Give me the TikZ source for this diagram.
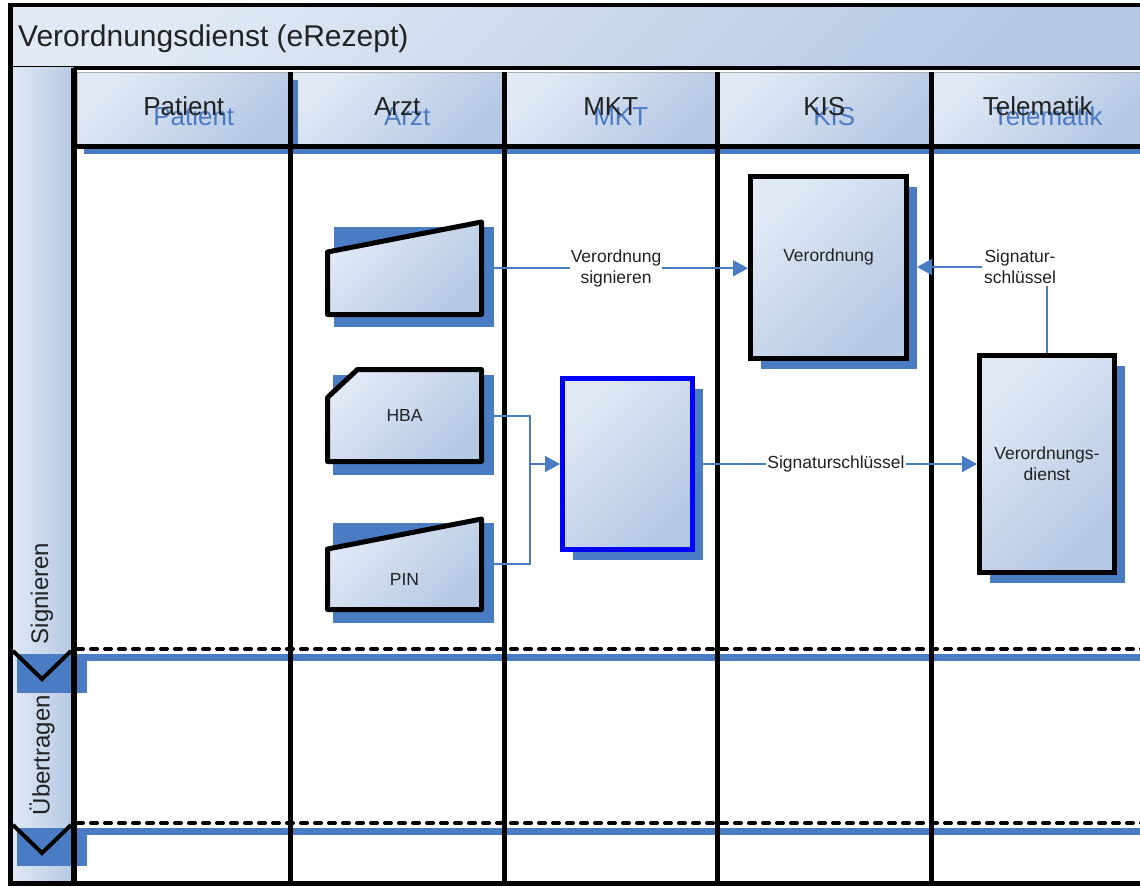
\documentclass[tikz,border=0pt]{standalone}
\usepackage{fontspec}
\setmainfont{Liberation Sans}
\usetikzlibrary{shapes,arrows.meta,positioning,calc,shadows}
\usepackage{xcolor}

\definecolor{shadeblue}{RGB}{74,124,196}
\definecolor{mktblue}{RGB}{0,0,255}
\definecolor{fillhi}{RGB}{225,233,245}
\definecolor{filllo}{RGB}{181,200,228}
\definecolor{inkgray}{RGB}{34,34,34}

\begin{document}
\begin{tikzpicture}[x=1pt, y=-1pt, font=\fontsize{17.5}{21}\selectfont]
    \tikzstyle{bluefill} = [left color=fillhi, right color=filllo, shading angle=45]
    \tikzstyle{bluedrop} = [drop shadow={fill=shadeblue, opacity=1, shadow xshift=10pt, shadow yshift=-10pt}]
    \tikzstyle{lanehead} = [rectangle, draw=gray!60, line width=0.6pt, bluefill, drop shadow={fill=shadeblue, opacity=1, shadow xshift=7pt, shadow yshift=-8pt}, minimum width=213.5pt, minimum height=74pt, inner sep=0pt, outer sep=0pt]
    \tikzstyle{headtext} = [anchor=base, inner sep=0pt, font=\fontsize{26}{30}\selectfont, text=inkgray]
    \tikzstyle{procbox} = [rectangle, draw=black, line width=5pt, bluefill, bluedrop, inner sep=0pt, align=center, text=inkgray]
    \tikzstyle{cardbox} = [rectangle, inner sep=0pt, outer sep=0pt]
    \tikzstyle{cardline} = [draw=black, line width=5pt, line join=round, bluefill]
    \tikzstyle{boxtext} = [align=center, text=inkgray]
    \tikzstyle{flow} = [draw=shadeblue, line width=2pt, -{Triangle[length=15pt, width=16pt]}]
    \tikzstyle{link} = [draw=shadeblue, line width=2pt]
    \tikzstyle{flowlabel} = [fill=white, inner sep=1pt, align=center, text=inkgray]
    \tikzstyle{thickline} = [draw=black, line width=5pt]
    \tikzstyle{phasesep} = [draw=black, line width=4pt, line cap=round, dash pattern=on 6pt off 8pt]
    \tikzstyle{phaselabel} = [rotate=90, font=\fontsize{24}{28}\selectfont, text=inkgray]

    \clip (0,0) rectangle (1140,886);
    \coordinate (poolbottom) at (0,883.5);

    % Titelleiste
    \node[rectangle, draw=black, line width=4pt, bluefill, minimum width=1160pt, minimum height=62.5pt, anchor=north west, outer sep=0pt] (title) at (10,5) {};
    \node[anchor=base west, inner sep=0pt, font=\fontsize{30}{36}\selectfont, text=inkgray] (titletext) at (18,46.5) {Verordnungsdienst (eRezept)};

    % Phasenspalte
    \node[rectangle, left color=fillhi, right color=filllo, anchor=north west, minimum width=62.5pt, minimum height=816pt, inner sep=0pt, outer sep=0pt] (phasecol) at (11,67.5) {};

    % Bahnenkoepfe
    \node[lanehead, anchor=north west] (harzt) at (290.5,72) {};
    \node[lanehead, right=0pt of harzt] (hmkt) {};
    \node[lanehead, right=0pt of hmkt] (hkis) {};
    \node[lanehead, right=0pt of hkis] (htelematik) {};
    \node[lanehead, anchor=north west] (hpatient) at (77,72) {};

    \foreach \h/\t in {hpatient/Patient, harzt/Arzt, hmkt/MKT, hkis/KIS, htelematik/Telematik} {
        \node[headtext, text=shadeblue] (\h-sh) at ([shift={(10,16)}]\h.center) {\t};
        \node[headtext] (\h-txt) at ([shift={(0,6)}]\h.center) {\t};
    }

    % Schatten der Phasentrenner
    \fill[shadeblue] (17,654) rectangle (87,693);
    \fill[shadeblue] (87,654) rectangle (1145,661);
    \fill[shadeblue] (17,828) rectangle (87,866);
    \fill[shadeblue] (87,828) rectangle (1145,835);

    % Rahmen und Bahnen
    \draw[line width=6pt] (phasecol.north east) -- (phasecol.south east);
    \draw[thickline] (phasecol.east |- hpatient.south) -- ++(1100,0);
    \foreach \h in {harzt,hmkt,hkis,htelematik}
        \draw[thickline] (\h.north west) -- (\h.north west |- poolbottom);
    \draw[thickline] (title.north west) -- (title.north west |- poolbottom) -- ++(1200,0);

    % Phasentrenner
    \draw[phasesep] (77,649) -- (1145,649);
    \draw[phasesep] (77,823) -- (1145,823);
    \draw[line width=4pt] (13,651) -- (42,679) -- (71,651);
    \draw[line width=4pt] (13,825) -- (42,853) -- (71,825);

    \node[phaselabel] (psignieren) at (42,593.5) {Signieren};
    \node[phaselabel] (puebertragen) at (42,755) {Übertragen};

    % Arzt
    \node[cardbox, minimum width=154pt, minimum height=92.5pt] (rezept) at (404.5,268.25) {};
    \fill[shadeblue] ([shift={(6,5)}]rezept.north west) rectangle ([shift={(12.5,12.5)}]rezept.south east);
    \draw[cardline] (rezept.south west) -- (rezept.south east) -- (rezept.north east) -- ([shift={(0,30)}]rezept.north west) -- cycle;

    \node[cardbox, minimum width=154pt, minimum height=92pt] (hba) at (404.5,415.5) {};
    \fill[shadeblue] ([shift={(5.5,5.5)}]hba.north west) rectangle ([shift={(12.5,13.5)}]hba.south east);
    \draw[cardline] (hba.south west) -- (hba.south east) -- (hba.north east) -- ([shift={(30,0)}]hba.north west) -- ([shift={(0,28)}]hba.north west) -- cycle;
    \node[boxtext] (hba-txt) at (hba) {HBA};

    \node[cardbox, minimum width=154pt, minimum height=90.5pt] (pin) at (404.5,564.25) {};
    \fill[shadeblue] ([shift={(5.5,4)}]pin.north west) rectangle ([shift={(12.5,13.5)}]pin.south east);
    \draw[cardline] (pin.south west) -- (pin.south east) -- (pin.north east) -- ([shift={(0,30)}]pin.north west) -- cycle;
    \node[boxtext] (pin-txt) at ([shift={(0,15)}]pin.center) {PIN};

    % MKT, KIS, Telematik
    \node[procbox, draw=mktblue, minimum width=130pt, minimum height=171pt] (mkt) at (627.5,464) {};
    \node[procbox, minimum width=156pt, minimum height=182pt] (verord) at (828.5,267.5) {};
    \node[boxtext] (verord-txt) at ([shift={(0,-11)}]verord.center) {Verordnung};
    \node[procbox, minimum width=135pt, minimum height=217pt] (vdienst) at (1047,464) {Verordnungs-\\dienst};

    % Verbindungen
    \coordinate (merge) at (530,464);
    \coordinate (verord-sh) at ([xshift=8pt]verord.east);
    \draw[flow] ([xshift=2.5pt]rezept.east) -- node[flowlabel] {Verordnung\\signieren} (rezept.east -| verord.west);
    \draw[link] ([xshift=2.5pt]hba.east) -| (merge);
    \draw[link] ([xshift=2.5pt]pin.east) -| (merge);
    \draw[flow] (merge) -- (mkt.west);
    \draw[flow] (mkt.east) -- node[flowlabel] {Signaturschlüssel} (vdienst.west);
    \node[boxtext, inner sep=2pt] (sigkey) at (1020,267) {Signatur-\\schlüssel};
    \draw[link] (vdienst.north) -- (vdienst.north |- sigkey.south);
    \draw[flow] (sigkey.west) -- (sigkey.west -| verord-sh);
\end{tikzpicture}
\end{document}
